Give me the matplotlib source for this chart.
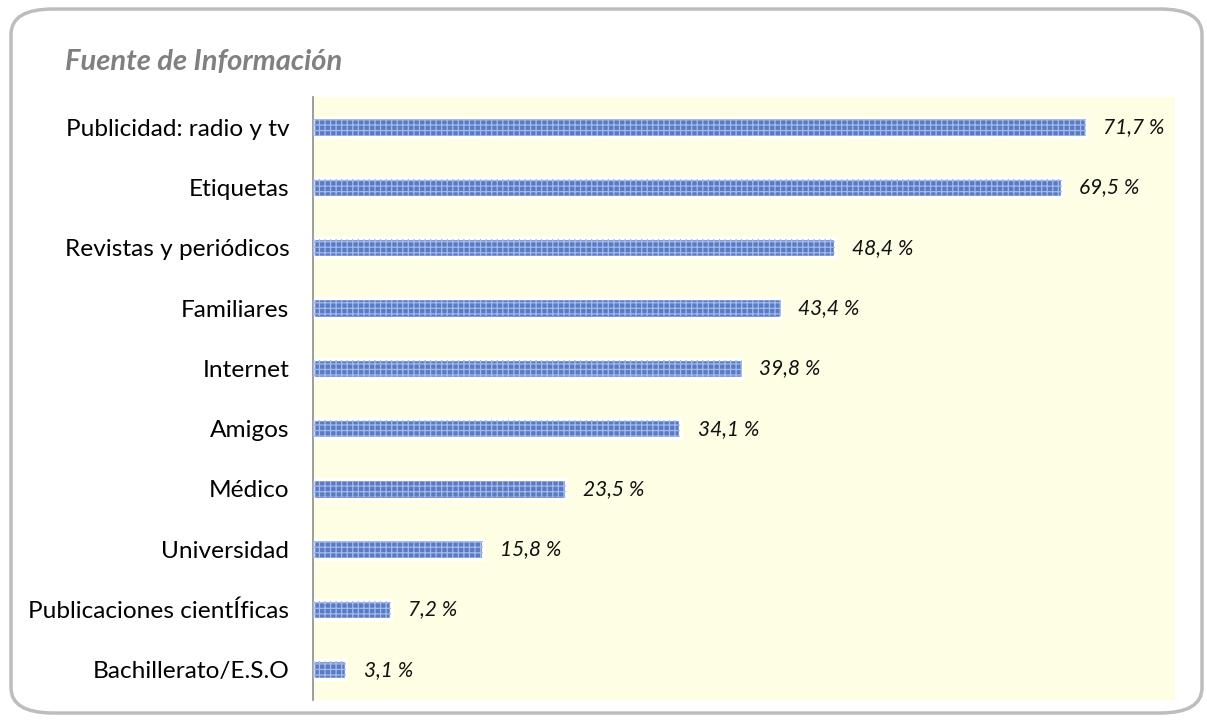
import matplotlib.pyplot as plt
from matplotlib.patches import FancyBboxPatch

categories = ["Publicidad: radio y tv", "Etiquetas", "Revistas y periódicos", "Familiares",
              "Internet", "Amigos", "Médico", "Universidad", "Publicaciones cientÍficas",
              "Bachillerato/E.S.O"]
values = [71.7, 69.5, 48.4, 43.4, 39.8, 34.1, 23.5, 15.8, 7.2, 3.1]
value_labels = ["71,7 %", "69,5 %", "48,4 %", "43,4 %", "39,8 %", "34,1 %", "23,5 %",
                "15,8 %", "7,2 %", "3,1 %"]

plt.rcParams["font.family"] = ["Lato", "DejaVu Sans"]
plt.rcParams["hatch.linewidth"] = 0.9

fig = plt.figure(figsize=(12.07, 7.22), dpi=100)
W, H = 1207, 722

# rounded outer frame
frame = FancyBboxPatch((11 / W, 9 / H), 1191 / W, 704 / H,
                       boxstyle="round,pad=0,rounding_size=0.035",
                       transform=fig.transFigure, facecolor="none",
                       edgecolor="#BDBDBD", linewidth=2.5, zorder=0)
fig.patches.append(frame)

ax = fig.add_axes([313 / W, 1 - 700 / H, (1175 - 313) / W, (700 - 97) / H])
ax.set_facecolor("#FEFEE4")
y = list(range(len(categories)))
# white outline behind the bars
ax.barh(y, values, height=0.32, color="#5A7AC4", edgecolor="white", linewidth=2.5, zorder=2)
# texture
ax.barh(y, values, height=0.28, color="none", edgecolor="#A3BBEB", linewidth=0,
        hatch="+++", zorder=3)
for yi, v, lab in zip(y, values, value_labels):
    ax.text(v + 1.6, yi, lab, va="center", ha="left", fontsize=15, style="italic",
            color="#111111", zorder=4)

ax.set_xlim(0, 80)
ax.set_ylim(len(categories) - 0.5, -0.5)
ax.set_yticks(y)
ax.set_yticklabels(categories, fontsize=17.6)
ax.tick_params(axis="y", length=0, pad=17)
ax.set_xticks([])
for s in ["top", "right", "bottom"]:
    ax.spines[s].set_visible(False)
ax.spines["left"].set_color("#8C8C8C")
ax.spines["left"].set_linewidth(1.2)

fig.text(65 / W, 1 - 62 / H, "Fuente de Información", fontsize=21, style="italic",
         weight="bold", color="#808080", va="center", ha="left")

fig.savefig("out.png", dpi=100)
